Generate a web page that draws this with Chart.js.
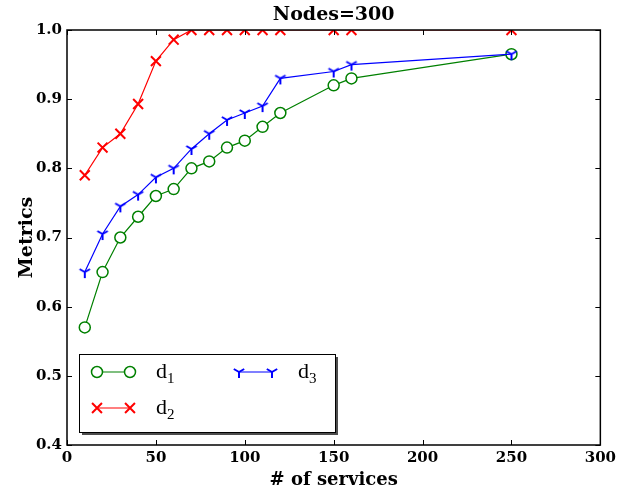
<!DOCTYPE html>
<html>
<head>
<meta charset="utf-8">
<script src="https://cdn.jsdelivr.net/npm/chart.js@4.4.1/dist/chart.umd.min.js"></script>
<style>
  html, body { margin: 0; padding: 0; background: #fff; }
  #wrap { width: 620px; height: 496px; }
</style>
</head>
<body>
<div id="wrap"><canvas id="chart"></canvas></div>
<script>
const services = [10, 20, 30, 40, 50, 60, 70, 80, 90, 100, 110, 120, 150, 160, 250];
const d1Values = [0.57, 0.65, 0.70, 0.73, 0.76, 0.77, 0.80, 0.81, 0.83, 0.84, 0.86, 0.88, 0.92, 0.93, 0.965];
const d2Values = [0.79, 0.83, 0.85, 0.893, 0.955, 0.986, 1.0, 1.0, 1.0, 1.0, 1.0, 1.0, 1.0, 1.0, 1.0];
const d3Values = [0.65, 0.705, 0.745, 0.762, 0.787, 0.80, 0.828, 0.85, 0.87, 0.88, 0.89, 0.93, 0.94, 0.95, 0.965];
const xTicks = [0, 50, 100, 150, 200, 250, 300];
const yTicks = [0.4, 0.5, 0.6, 0.7, 0.8, 0.9, 1.0];

// matplotlib "tri_down" marker as a small canvas
const triDown = (() => {
  const c = document.createElement("canvas");
  c.width = 16;
  c.height = 16;
  const g = c.getContext("2d");
  g.strokeStyle = "#0000ff";
  g.lineWidth = 2;
  g.beginPath();
  g.moveTo(8, 8); g.lineTo(8, 14);
  g.moveTo(8, 8); g.lineTo(2.8, 5);
  g.moveTo(8, 8); g.lineTo(13.2, 5);
  g.stroke();
  return c;
})();

const toPoints = (vals) => services.map((s, i) => ({ x: s, y: vals[i] }));

const series = [
  { label: "1", color: "#008000", style: "circle", radius: 5.5, width: 1.5, fill: "#ffffff", values: d1Values, order: 3 },
  { label: "2", color: "#ff0000", style: "crossRot", radius: 7, width: 2, fill: "#ff0000", values: d2Values, order: 2 },
  { label: "3", color: "#0000ff", style: triDown, radius: 7, width: 2, fill: "#0000ff", values: d3Values, order: 1 },
];

const drawMarker = (ctx, s, x, y) => {
  ctx.save();
  ctx.strokeStyle = s.color;
  ctx.fillStyle = s.fill;
  ctx.lineWidth = s.width;
  Chart.helpers.drawPoint(ctx, { pointStyle: s.style, radius: s.radius, rotation: 0, borderWidth: s.width }, x, y);
  ctx.restore();
};

const decorPlugin = {
  id: "decor",
  afterDraw(chart) {
    const ctx = chart.ctx;
    const a = chart.chartArea;
    const xs = chart.scales.x, ys = chart.scales.y;
    ctx.save();
    // frame
    ctx.strokeStyle = "#000";
    ctx.lineWidth = 1.5;
    ctx.strokeRect(a.left, a.top, a.right - a.left, a.bottom - a.top);
    // inward ticks on all sides
    ctx.lineWidth = 1;
    ctx.beginPath();
    xTicks.forEach((t) => {
      const px = Math.round(xs.getPixelForValue(t)) + 0.5;
      ctx.moveTo(px, a.bottom); ctx.lineTo(px, a.bottom - 5);
      ctx.moveTo(px, a.top); ctx.lineTo(px, a.top + 5);
    });
    yTicks.forEach((t) => {
      const py = Math.round(ys.getPixelForValue(t)) + 0.5;
      ctx.moveTo(a.left, py); ctx.lineTo(a.left + 5, py);
      ctx.moveTo(a.right, py); ctx.lineTo(a.right - 5, py);
    });
    ctx.stroke();

    // title and axis titles
    ctx.fillStyle = "#000";
    ctx.textAlign = "center";
    ctx.textBaseline = "middle";
    ctx.font = "bold 19px 'DejaVu Serif'";
    ctx.fillText("Nodes=300", (a.left + a.right) / 2, 15);
    ctx.font = "bold 18px 'DejaVu Serif'";
    ctx.fillText("# of services", (a.left + a.right) / 2, 480);
    ctx.save();
    ctx.translate(27, (a.top + a.bottom) / 2);
    ctx.rotate(-Math.PI / 2);
    ctx.font = "bold 19px 'DejaVu Serif'";
    ctx.fillText("Metrics", 0, 0);
    ctx.restore();

    // legend box with shadow
    const bx = 79, by = 354, bw = 256, bh = 78;
    ctx.fillStyle = "#4d4d4d";
    ctx.fillRect(bx + 3, by + 3, bw, bh);
    ctx.fillStyle = "#fff";
    ctx.fillRect(bx, by, bw, bh);
    ctx.strokeStyle = "#000";
    ctx.lineWidth = 1;
    ctx.strokeRect(bx + 0.5, by + 0.5, bw, bh);

    const slots = [
      { s: series[0], x: 97, y: 372 },
      { s: series[1], x: 97, y: 408 },
      { s: series[2], x: 239, y: 372 },
    ];
    slots.forEach(({ s, x, y }) => {
      ctx.strokeStyle = s.color;
      ctx.lineWidth = 1.2;
      ctx.beginPath();
      ctx.moveTo(x, y); ctx.lineTo(x + 33, y);
      ctx.stroke();
      drawMarker(ctx, s, x, y);
      drawMarker(ctx, s, x + 33, y);
      ctx.fillStyle = "#000";
      ctx.textAlign = "left";
      ctx.textBaseline = "alphabetic";
      ctx.font = "22px 'Liberation Serif'";
      ctx.fillText("d", x + 59, y + 6);
      const w = ctx.measureText("d").width;
      ctx.font = "15px 'Liberation Serif'";
      ctx.fillText(s.label, x + 59 + w, y + 11);
    });
    ctx.restore();
  },
};

new Chart(document.getElementById("chart"), {
  type: "line",
  data: {
    datasets: series.map((s) => ({
      label: "d" + s.label,
      data: toPoints(s.values),
      borderColor: s.color,
      borderWidth: 1.2,
      pointStyle: s.style,
      pointRadius: s.radius,
      pointBorderWidth: s.width,
      pointBorderColor: s.color,
      pointBackgroundColor: s.fill,
      pointHoverRadius: s.radius,
      fill: false,
      tension: 0,
      clip: 0,
      order: s.order,
    })),
  },
  options: {
    responsive: true,
    maintainAspectRatio: false,
    animation: false,
    events: [],
    layout: { padding: { top: 30, right: 18, left: 0, bottom: 0 } },
    plugins: {
      legend: { display: false },
      title: { display: false },
      tooltip: { enabled: false },
    },
    scales: {
      x: {
        type: "linear",
        min: 0,
        max: 300,
        afterBuildTicks: (scale) => { scale.ticks = xTicks.map((v) => ({ value: v })); },
        afterFit: (scale) => { scale.height = 51; },
        grid: { display: false, drawTicks: false },
        border: { display: false },
        ticks: { padding: 4, color: "#000", font: { family: "DejaVu Serif", size: 15, weight: "bold" }, maxRotation: 0 },
      },
      y: {
        type: "linear",
        min: 0.4,
        max: 1.0,
        afterBuildTicks: (scale) => { scale.ticks = yTicks.map((v) => ({ value: v })); },
        afterFit: (scale) => { scale.width = 67; },
        grid: { display: false, drawTicks: false },
        border: { display: false },
        ticks: { padding: 5, color: "#000", font: { family: "DejaVu Serif", size: 15, weight: "bold" }, callback: (v) => v.toFixed(1) },
      },
    },
  },
  plugins: [decorPlugin],
});
</script>
</body>
</html>
